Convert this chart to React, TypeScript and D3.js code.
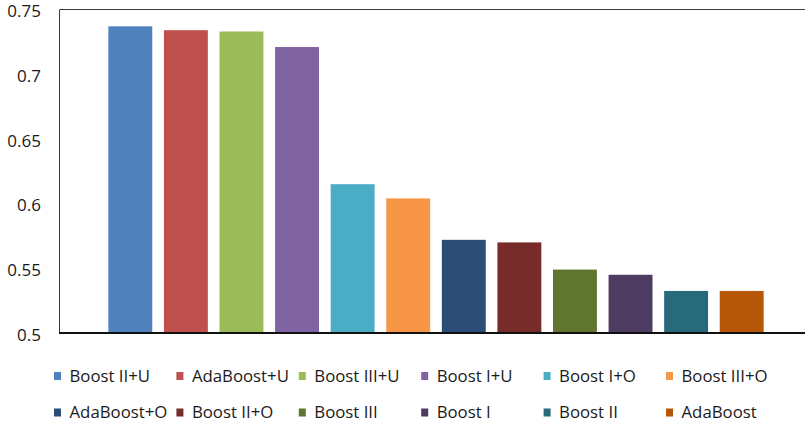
import React from "react";
import * as d3 from "d3";

const categories = [
  "Boost II+U", "AdaBoost+U", "Boost III+U", "Boost I+U", "Boost I+O", "Boost III+O",
  "AdaBoost+O", "Boost II+O", "Boost III", "Boost I", "Boost II", "AdaBoost",
];
const values = [0.737, 0.734, 0.733, 0.721, 0.615, 0.604, 0.572, 0.570, 0.549, 0.545, 0.5325, 0.5325];
const colors = [
  "#4F81BD", "#C0504D", "#9BBB59", "#8064A2", "#4BACC6", "#F79646",
  "#2C4D75", "#772C2A", "#5F7530", "#4D3B62", "#276A7C", "#B65708",
];
const yTicks = [0.5, 0.55, 0.6, 0.65, 0.7, 0.75];

const W = 805;
const H = 426;
const plot = { left: 60, right: 812, top: 9.5, bottom: 333 };
const font = "'Open Sans', 'Noto Sans', sans-serif";

export default function App() {
  const x = d3
    .scaleBand<string>()
    .domain(categories)
    .range([plot.left, plot.right])
    .paddingInner(0.21)
    .paddingOuter(0.87);
  const y = d3.scaleLinear().domain([0.5, 0.75]).range([plot.bottom, plot.top]);
  const fmt = (v: number) => String(+v.toFixed(2));

  const legendCols = 6;
  const legendX0 = 54;
  const legendStep = 122.4;
  const legendRows = [376, 412.5];

  return (
    <svg
      width={W}
      height={H}
      style={{ position: "absolute", left: 0, top: 0, display: "block", background: "#fff" }}
      fontFamily={font}
    >
      {/* bars */}
      {categories.map((c, i) => (
        <rect
          key={c}
          x={x(c)}
          y={y(values[i])}
          width={x.bandwidth()}
          height={plot.bottom - y(values[i])}
          fill={colors[i]}
        />
      ))}
      {/* plot frame */}
      <line x1={plot.left} x2={plot.right} y1={plot.top} y2={plot.top} stroke="#3a3a3a" strokeWidth={1} />
      <line x1={plot.left - 0.5} x2={plot.left - 0.5} y1={plot.top} y2={plot.bottom} stroke="#3a3a3a" strokeWidth={1} />
      <line x1={plot.left - 1} x2={plot.right} y1={plot.bottom} y2={plot.bottom} stroke="#111" strokeWidth={2} />
      {/* y tick labels */}
      {yTicks.map((t) => (
        <text
          key={t}
          x={41}
          y={y(t) + 1.5}
          dy="0.36em"
          textAnchor="end"
          fontSize={17}
          fill="#1a1a1a"
        >
          {fmt(t)}
        </text>
      ))}
      {/* legend */}
      {categories.map((c, i) => {
        const col = i % legendCols;
        const row = Math.floor(i / legendCols);
        const lx = legendX0 + col * legendStep;
        const ly = legendRows[row];
        return (
          <g key={c}>
            <rect x={lx} y={ly - 4} width={7} height={8} fill={colors[i]} />
            <text x={lx + 15.5} y={ly} dy="0.35em" fontSize={16.8} fill="#1a1a1a">
              {c}
            </text>
          </g>
        );
      })}
    </svg>
  );
}
